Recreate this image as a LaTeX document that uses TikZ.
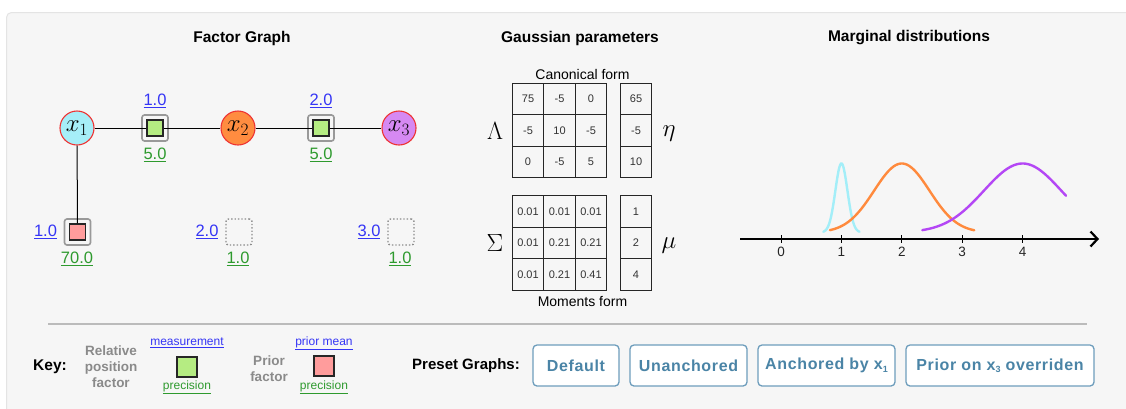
\documentclass[tikz,border=0pt]{standalone}
\usepackage{fontspec}
\setmainfont{Liberation Sans}
\usetikzlibrary{arrows.meta}
\definecolor{panelbg}{HTML}{F6F6F6}
\definecolor{panelbd}{HTML}{E4E4E4}
\definecolor{varbd}{HTML}{EE3333}
\definecolor{cx1}{HTML}{A6EEF8}
\definecolor{cx2}{HTML}{FF8C40}
\definecolor{cx3}{HTML}{D689F2}
\definecolor{lblue}{HTML}{3535F5}
\definecolor{lgreen}{HTML}{2E9A2E}
\definecolor{fgreen}{HTML}{B5EC82}
\definecolor{fred}{HTML}{FF9C9C}
\definecolor{curvecyan}{HTML}{A3EEF8}
\definecolor{curveorange}{HTML}{FF8A3D}
\definecolor{curvepurple}{HTML}{B447F5}
\definecolor{keygray}{HTML}{8A8A8A}
\definecolor{btnbd}{HTML}{6E9DBC}
\definecolor{btntxt}{HTML}{4A84A6}
\definecolor{sepgray}{HTML}{BBBBBB}
\definecolor{celltxt}{HTML}{333333}
\newcommand{\btnsub}[1]{\raisebox{-2.5pt}{\fontsize{9}{9}\selectfont #1}}
\begin{document}
\begin{tikzpicture}[x=1pt,y=-1pt,
  title/.style={font=\fontsize{15.5}{18}\selectfont\bfseries},
  var/.style={circle, draw=varbd, line width=1.1pt, minimum size=34pt, inner sep=0pt, font=\fontsize{27}{27}\selectfont},
  fouter/.style={draw=black!40, line width=1.6pt, rounded corners=2.5pt, minimum size=26pt, inner sep=0pt},
  finner/.style={draw=black!85, line width=1.3pt, minimum size=16pt, inner sep=0pt},
  fempty/.style={draw=black!45, line width=1.4pt, dotted, rounded corners=2.5pt, minimum size=26pt, inner sep=0pt},
  bl/.style={text=lblue, font=\fontsize{16.5}{18}\selectfont, inner sep=1pt},
  gl/.style={text=lgreen, font=\fontsize{16.5}{18}\selectfont, inner sep=1pt},
  cell/.style={draw=black!85, line width=1.3pt, minimum size=31.5pt, inner sep=0pt, text=celltxt, font=\fontsize{11}{12}\selectfont},
  greek/.style={font=\fontsize{31}{31}\selectfont},
  sub/.style={font=\fontsize{14}{15}\selectfont},
  tick/.style={font=\fontsize{13.5}{15}\selectfont, text=black!85},
  keyg/.style={text=keygray, font=\fontsize{13.5}{16}\selectfont\bfseries, align=center},
  keyl/.style={font=\fontsize{12}{14}\selectfont, inner sep=1pt},
  button/.style={draw=btnbd, fill=white, line width=1.3pt, rounded corners=4pt, minimum height=41pt, inner sep=0pt, text=btntxt, font=\fontsize{16}{18}\selectfont\bfseries\addfontfeatures{LetterSpace=4}},
  curve/.style={line width=2.4pt, line cap=round}
]
\useasboundingbox (0,0) rectangle (1126,408);
\clip (0,0) rectangle (1126,408);
\fill[white] (0,0) rectangle (1126,408);
\draw[panelbd, fill=panelbg, line width=1pt, rounded corners=5pt] (6.5,12.5) rectangle (1150,430);

% titles
\node[title] (t1) at (242,38) {Factor Graph};
\node[title] (t2) at (580,38) {Gaussian parameters};
\node[title] (t3) at (909,38) {Marginal distributions};

% factor graph
\node[var, fill=cx1] (x1) at (77,128) {$x_1$};
\node[var, fill=cx2] (x2) at (238,128) {$x_2$};
\node[var, fill=cx3] (x3) at (399,128) {$x_3$};
\node[fouter] (f1) at (155,128) {};
\node[finner, fill=fgreen] (f1i) at (155,128) {};
\node[fouter] (f2) at (321,128) {};
\node[finner, fill=fgreen] (f2i) at (321,128) {};
\node[fouter] (p1) at (77.5,232) {};
\node[finner, fill=fred] (p1i) at (77.5,232) {};
\node[fempty] (p2) at (239,232) {};
\node[fempty] (p3) at (401,232) {};
\draw[line width=1pt] (x1) -- (f1i) -- (x2) -- (f2i) -- (x3);
\draw[line width=1pt] (x1) -- (p1i);

\node[bl] (m1) at (155,101) {\underline{1.0}};
\node[gl] (s1) at (155,155) {\underline{5.0}};
\node[bl] (m2) at (321,101) {\underline{2.0}};
\node[gl] (s2) at (321,155) {\underline{5.0}};
\node[bl] (pm1) at (45.5,232) {\underline{1.0}};
\node[gl] (ps1) at (77,258.5) {\underline{70.0}};
\node[bl] (pm2) at (207,232) {\underline{2.0}};
\node[gl] (ps2) at (238,258.5) {\underline{1.0}};
\node[bl] (pm3) at (369,232) {\underline{3.0}};
\node[gl] (ps3) at (400,258.5) {\underline{1.0}};

% Gaussian parameters
\node[sub] (canon) at (582.5,74) {Canonical form};
\foreach [count=\r] \row in {{75,-5,0},{-5,10,-5},{0,-5,5}} {
  \foreach [count=\c] \v in \row {
    \node[cell] (L\r\c) at ({496.5+31.5*\c},{67.5+31.5*\r}) {\v};
  }
}
\foreach [count=\r] \v in {65,-5,10} {
  \node[cell] (E\r) at (636,{67.5+31.5*\r}) {\v};
}
\foreach [count=\r] \row in {{0.01,0.01,0.01},{0.01,0.21,0.21},{0.01,0.21,0.41}} {
  \foreach [count=\c] \v in \row {
    \node[cell] (S\r\c) at ({496.5+31.5*\c},{180+31.5*\r}) {\v};
  }
}
\foreach [count=\r] \v in {1,2,4} {
  \node[cell] (M\r) at (636,{180+31.5*\r}) {\v};
}
\node[sub] (moments) at (582.5,301.5) {Moments form};
\node[greek] (lam) at (495,131) {$\Lambda$};
\node[greek] (eta) at (669,134) {$\eta$};
\node[greek] (sig) at (495,243) {$\Sigma$};
\node[greek] (mu) at (669,246) {$\mu$};

% Marginal distributions
\coordinate (ax0) at (740,239);
\coordinate (ax1) at (1099,239);
\draw[line width=2.4pt, -{Straight Barb[length=7pt,width=15pt,line width=2.2pt]}] (ax0) -- (ax1);
\foreach \i in {0,...,4} {
  \draw[line width=1pt] ({781+60.4*\i},235) -- ({781+60.4*\i},243);
  \node[tick] (tk\i) at ({781+60.4*\i},252) {\i};
}
\draw[curve, curvecyan] plot[domain=0.7:1.3, samples=60, smooth] ({781+60.4*\x},{232.5-69*exp(-(\x-1)*(\x-1)/0.02)});
\draw[curve, curveorange] plot[domain=0.81:3.2, samples=80, smooth] ({781+60.4*\x},{232.5-69*exp(-(\x-2)*(\x-2)/0.42)});
\draw[curve, curvepurple] plot[domain=2.34:4.72, samples=80, smooth] ({781+60.4*\x},{232.5-69*exp(-(\x-4)*(\x-4)/0.82)});

% separator
\coordinate (sepL) at (48,324);
\coordinate (sepR) at (1087,324);
\draw[sepgray, line width=2pt] (sepL) -- (sepR);

% key
\node[font=\fontsize{15.5}{18}\selectfont\bfseries] (key) at (50,367) {Key:};
\node[keyg] (relk) at (111,367) {Relative\\position\\factor};
\node[keyl, text=lblue] (kmeas) at (187,343) {\underline{measurement}};
\node[finner, fill=fgreen, minimum size=20pt] (kg) at (187,367) {};
\node[keyl, text=lgreen] (kprec1) at (187,387) {\underline{precision}};
\node[keyg] (priork) at (269,369) {Prior\\factor};
\node[keyl, text=lblue] (kpm) at (324,343) {\underline{prior mean}};
\node[finner, fill=fred, minimum size=20pt] (kr) at (324,366) {};
\node[keyl, text=lgreen] (kprec2) at (324,387) {\underline{precision}};

% preset buttons
\node[font=\fontsize{15}{18}\selectfont\bfseries] (preset) at (466,366) {Preset Graphs:};
\node[button, minimum width=86pt] (b1) at (576,365.5) {Default};
\node[button, minimum width=117pt] (b2) at (688.5,365.5) {Unanchored};
\node[button, minimum width=137pt] (b3) at (826.5,365.5) {Anchored by x\btnsub{1}};
\node[button, minimum width=188pt] (b4) at (1000,365.5) {Prior on x\btnsub{3} overriden};
\end{tikzpicture}
\end{document}
